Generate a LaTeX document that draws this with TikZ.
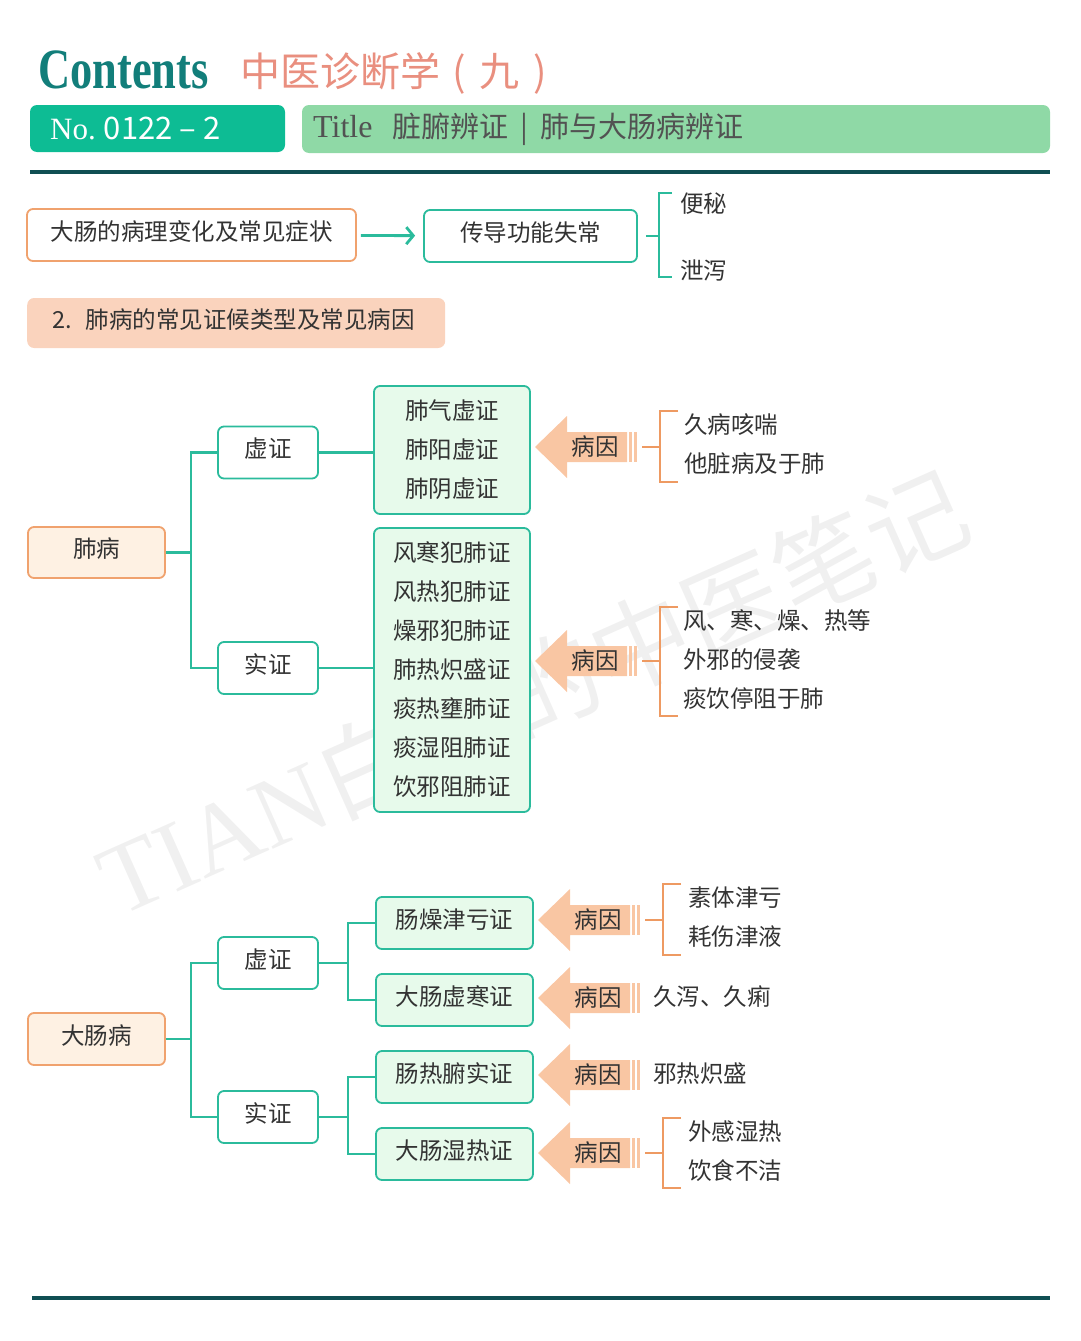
\documentclass[tikz,border=0pt]{standalone}
\usepackage{fontspec}
\setmainfont{Noto Sans CJK SC}
\newfontfamily\serifen{Liberation Serif}
\usetikzlibrary{arrows.meta}
\definecolor{inkgray}{HTML}{333333}
\definecolor{ruleteal}{HTML}{0F4F53}
\definecolor{lineteal}{HTML}{2BBB9C}
\definecolor{orangeline}{HTML}{F0A26E}
\definecolor{brkorange}{HTML}{EE9A62}
\definecolor{peachbar}{HTML}{FAD3BD}
\definecolor{peachlight}{HTML}{FEF1E3}
\definecolor{greenfill}{HTML}{E7FAEB}
\definecolor{arrowpeach}{HTML}{F9C6A3}
\definecolor{nofill}{HTML}{0DBC94}
\definecolor{titlefill}{HTML}{8FD9A6}
\definecolor{contentsteal}{HTML}{127E7A}
\definecolor{salmon}{HTML}{E98F7F}
\newcommand{\bodyfont}{\fontsize{23.5}{39}\selectfont}
\newcommand{\yinarrow}[3]{%
  \fill[arrowpeach] (#2,#3) -- ++(32,-31) -- ++(0,16) -- ++(60,0) -- ++(0,30)
    -- ++(-60,0) -- ++(0,16) -- cycle;
  \fill[arrowpeach] (#2+94,#3-15) rectangle ++(3,30);
  \fill[arrowpeach] (#2+99,#3-15) rectangle ++(3,30);
  \node[yintext] (#1) at (#2+60,#3) {病因};
  \coordinate (#1-end) at (#2+107,#3);
}
\tikzset{
  lift/.style  = {text height=17pt, text depth=7pt},
  obox/.style  = {rectangle, rounded corners=6pt, draw=orangeline, line width=1.8pt, lift,
                  fill=white, minimum height=52pt, font=\bodyfont, text=inkgray},
  tbox/.style  = {rectangle, rounded corners=6pt, draw=lineteal, line width=1.8pt, lift,
                  fill=white, minimum height=52pt, font=\bodyfont, text=inkgray},
  gbox/.style  = {rectangle, rounded corners=6pt, draw=lineteal, line width=1.8pt,
                  fill=greenfill, minimum width=156pt, align=center, font=\bodyfont, text=inkgray},
  link/.style  = {draw=lineteal, line width=2.6pt},
  obrk/.style  = {draw=brkorange, line width=2.4pt},
  tbrk/.style  = {draw=lineteal, line width=1.6pt},
  leaf/.style  = {anchor=west, inner sep=0pt, font=\bodyfont, text=inkgray},
  yintext/.style = {inner sep=0pt, font=\bodyfont, text=inkgray},
  flow/.style  = {-{Straight Barb[length=7pt, width=17pt]}, draw=lineteal, line width=2.8pt},
  rule/.style  = {draw=ruleteal, line width=3.2pt},
}
\begin{document}
\begin{tikzpicture}[x=1pt, y=-1pt]
  \useasboundingbox (0,0) rectangle (1080,1341);

  \begin{scope}[shift={(532,692)}]
    \node[rotate=24, text=black!6, font=\fontsize{100}{100}\selectfont] (wm) at (0,0)
      {{\serifen TIAN}白白的中医笔记};
  \end{scope}

  \node[anchor=base west, inner sep=0pt, text=contentsteal,
        font=\serifen\bfseries\fontsize{57}{60}\selectfont] (contents) at (38,88)
        {\scalebox{0.78}[1]{Contents}};
  \node[anchor=base west, inner sep=0pt, text=salmon,
        font=\fontsize{40}{44}\selectfont] (maintitle) at (240,86)
        {中医诊断学\hspace{12pt}(\hspace{14pt}九\hspace{14pt})};
  \node[rectangle, rounded corners=7pt, fill=nofill, minimum width=255pt,
        minimum height=47pt] (nobox) at (157.5,128.5) {};
  \node[anchor=west, inner sep=0pt, text=white, font=\fontsize{31}{34}\selectfont]
        (nolabel) at (50,128) {{\serifen No.}\hspace{8pt}0122 – 2};
  \node[rectangle, rounded corners=7pt, fill=titlefill, minimum width=748pt,
        minimum height=48pt] (titlebox) at (676,129) {};
  \node[anchor=west, inner sep=0pt, text=black!68, font=\fontsize{29}{32}\selectfont]
        (titlelabel) at (313,129)
        {{\serifen\fontsize{32}{34}\selectfont Title}\hspace{20pt}脏腑辨证\hspace{12pt}|\hspace{12pt}肺与大肠病辨证};
  \draw[rule] (30,172) -- (1050,172);

  \node[obox, minimum width=329pt] (patho) at (191.5,235) {大肠的病理变化及常见症状};
  \node[tbox, minimum width=213pt] (chuan) at (530.5,236) {传导功能失常};
  \draw[flow, shorten <=4pt, shorten >=8pt] (patho) -- (chuan);
  \node[leaf] (bianmi) at (680,204) {便秘};
  \node[leaf] (xiexie) at (680,270) {泄泻};
  \coordinate (b0) at (659,236);
  \draw[tbrk] ([xshift=8pt]chuan.east) -- (b0);
  \draw[tbrk] (672,193) -| (659,277) -- (672,277);

  \node[rectangle, rounded corners=7pt, fill=peachbar, anchor=west, minimum height=50pt,
        text width=368pt, inner xsep=25pt, align=left, font=\bodyfont, text=inkgray, lift]
        (sec2) at (27,323) {2.\hspace{14pt}肺病的常见证候类型及常见病因};

  \node[obox, fill=peachlight, minimum width=137pt, minimum height=51pt] (fei) at (96.5,552.5) {肺病};
  \node[tbox, minimum width=100pt] (xu1)  at (268,452.5) {虚证};
  \node[tbox, minimum width=100pt] (shi1) at (268,668) {实证};
  \node[gbox, minimum height=128pt] (g1) at (452,450)
    {肺气虚证\\肺阳虚证\\肺阴虚证};
  \node[gbox, minimum height=284pt] (g2) at (452,670)
    {风寒犯肺证\\风热犯肺证\\燥邪犯肺证\\肺热炽盛证\\痰热壅肺证\\痰湿阻肺证\\饮邪阻肺证};
  \draw[link] (fei.east) -- ++(25,0) coordinate (j1);
  \draw[link] (xu1.west) -| (j1) |- (shi1.west);
  \draw[link] (xu1.east) -- (xu1.east -| g1.west);
  \draw[link] (shi1.east) -- (shi1.east -| g2.west);

  \yinarrow{c1}{535}{447}
  \draw[obrk] (c1-end) -- (660,447);
  \draw[obrk] (678,411) -| (660,482) -- (678,482);
  \node[leaf] (r11) at (684,425) {久病咳喘};
  \node[leaf] (r12) at (684,464) {他脏病及于肺};

  \yinarrow{c2}{535}{661}
  \draw[obrk] (c2-end) -- (660,661);
  \draw[obrk] (678,607) -| (660,716) -- (678,716);
  \node[leaf] (r21) at (683,621) {风、寒、燥、热等};
  \node[leaf] (r22) at (683,660) {外邪的侵袭};
  \node[leaf] (r23) at (683,699) {痰饮停阻于肺};

  \node[obox, fill=peachlight, minimum width=137pt] (dc) at (96.5,1039) {大肠病};
  \node[tbox, minimum width=100pt] (xu2)  at (268,963) {虚证};
  \node[tbox, minimum width=100pt] (shi2) at (268,1117) {实证};
  \node[gbox, lift, minimum width=157pt, minimum height=52pt] (g3) at (454.5,923)  {肠燥津亏证};
  \node[gbox, lift, minimum width=157pt, minimum height=52pt] (g4) at (454.5,1000) {大肠虚寒证};
  \node[gbox, lift, minimum width=157pt, minimum height=52pt] (g5) at (454.5,1077) {肠热腑实证};
  \node[gbox, lift, minimum width=157pt, minimum height=52pt] (g6) at (454.5,1154) {大肠湿热证};
  \draw[link] (dc.east) -- ++(25,0) coordinate (j2);
  \draw[link] (xu2.west) -| (j2) |- (shi2.west);
  \draw[link] (xu2.east) -- ++(29,0) coordinate (j3);
  \draw[link] (g3.west) -| (j3) |- (g4.west);
  \draw[link] (shi2.east) -- ++(29,0) coordinate (j4);
  \draw[link] (g5.west) -| (j4) |- (g6.west);

  \yinarrow{c3}{538}{920}
  \draw[obrk] (c3-end) -- (663,920);
  \draw[obrk] (681,884) -| (663,955) -- (681,955);
  \node[leaf] (r31) at (688,898) {素体津亏};
  \node[leaf] (r32) at (688,937) {耗伤津液};

  \yinarrow{c4}{538}{998}
  \node[leaf] (r41) at (653,997) {久泻、久痢};

  \yinarrow{c5}{538}{1075}
  \node[leaf] (r51) at (653,1074) {邪热炽盛};

  \yinarrow{c6}{538}{1153}
  \draw[obrk] (c6-end) -- (663,1153);
  \draw[obrk] (681,1118) -| (663,1188) -- (681,1188);
  \node[leaf] (r61) at (688,1132) {外感湿热};
  \node[leaf] (r62) at (688,1171) {饮食不洁};

  \draw[rule] (32,1298) -- (1050,1298);
\end{tikzpicture}
\end{document}
